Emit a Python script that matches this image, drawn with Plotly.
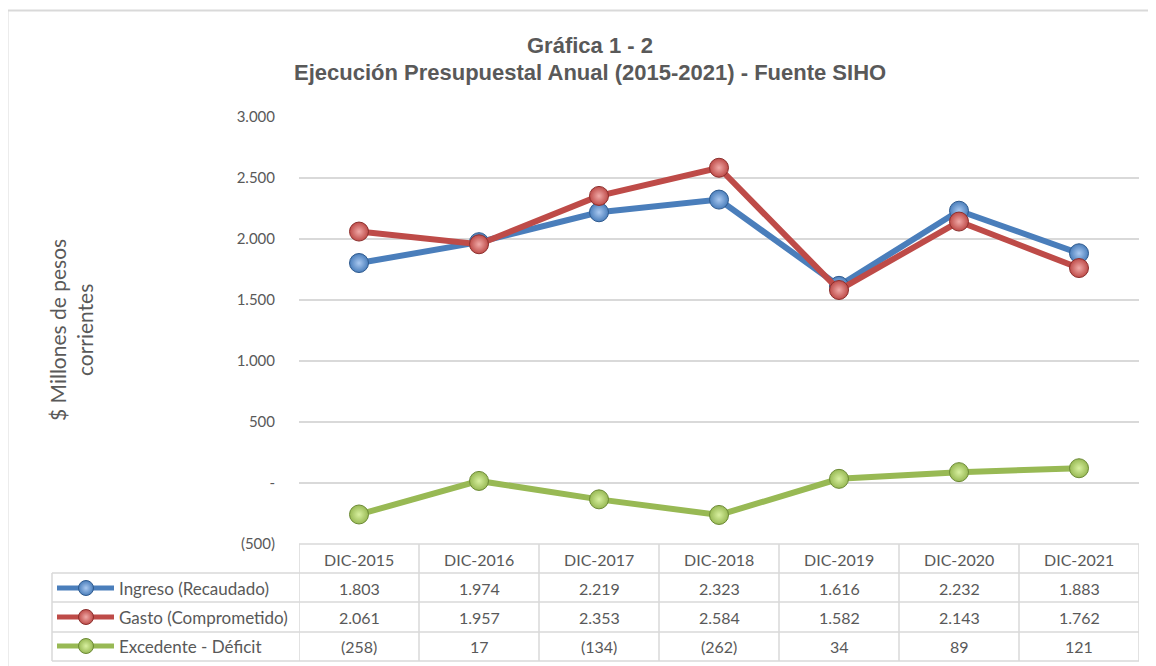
import plotly.graph_objects as go

categories = ["DIC-2015", "DIC-2016", "DIC-2017", "DIC-2018", "DIC-2019", "DIC-2020", "DIC-2021"]
ingreso = [1803, 1974, 2219, 2323, 1616, 2232, 1883]
gasto = [2061, 1957, 2353, 2584, 1582, 2143, 1762]
excedente = [-258, 17, -134, -262, 34, 89, 121]
series_names = ["Ingreso (Recaudado)", "Gasto (Comprometido)", "Excedente - Déficit"]
y_tickvals = [-500, 0, 500, 1000, 1500, 2000, 2500, 3000]
y_ticktext = ["(500)", "-", "500", "1.000", "1.500", "2.000", "2.500", "3.000"]

W, H = 1156, 666
OX, OY = 8, 8  # page body margin compensation
def px(x): return (x - OX) / W
def py(y): return 1 - (y - OY) / H

colors = ["#4A7EBB", "#BE4B48", "#98B954"]
centers = ["#A9C8F0", "#F0A9A7", "#D8F0A0"]
edges = ["#2E5A8E", "#8C2F2D", "#6C8A35"]
series = [ingreso, gasto, excedente]

def fmt(v):
    s = f"{abs(v):,}".replace(",", ".")
    return f"({s})" if v < 0 else s

TXT = "#595959"
FONT = "Lato"
GRID = "#D9D9D9"

fig = go.Figure()
order = [2, 0, 1]
for i in order:
    fig.add_trace(go.Scatter(
        x=categories, y=series[i], name=series_names[i], mode="lines+markers",
        line=dict(color=colors[i], width=6),
        marker=dict(size=19, color=colors[i], line=dict(color=edges[i], width=1),
                    gradient=dict(type="radial", color=centers[i])),
        showlegend=False, cliponaxis=False))

# legend symbols inside the table (overlay pixel axes)
row_y = [588, 617, 646]
for i in range(3):
    fig.add_trace(go.Scatter(
        x=[57, 114], y=[row_y[i], row_y[i]], xaxis="x2", yaxis="y2", mode="lines",
        line=dict(color=colors[i], width=5), showlegend=False, hoverinfo="skip"))
    fig.add_trace(go.Scatter(
        x=[86], y=[row_y[i]], xaxis="x2", yaxis="y2", mode="markers",
        marker=dict(size=15, color=colors[i], line=dict(color=edges[i], width=1),
                    gradient=dict(type="radial", color=centers[i])),
        showlegend=False, hoverinfo="skip"))

shapes = []
shapes.append(dict(type="line", xref="paper", yref="paper", x0=px(7), x1=px(1170), y0=py(10.5), y1=py(10.5),
                   line=dict(color="#D9D9D9", width=2)))
shapes.append(dict(type="line", xref="paper", yref="paper", x0=px(7.5), x1=px(7.5), y0=py(10), y1=py(680),
                   line=dict(color="#D9D9D9", width=2)))

tl = dict(color=GRID, width=1.5)
t_top, t_hdr, t_bot = 544, 573, 661
row_lines = [573, 602, 632, 661]
shapes.append(dict(type="line", xref="paper", yref="paper", x0=px(299), x1=px(1139), y0=py(t_top), y1=py(t_top), line=tl))
for yy in row_lines:
    shapes.append(dict(type="line", xref="paper", yref="paper", x0=px(52), x1=px(1139), y0=py(yy), y1=py(yy), line=tl))
shapes.append(dict(type="line", xref="paper", yref="paper", x0=px(52), x1=px(52), y0=py(t_hdr), y1=py(t_bot), line=tl))
for k in range(len(categories) + 1):
    shapes.append(dict(type="line", xref="x", yref="paper", x0=k - 0.5, x1=k - 0.5,
                       y0=py(t_top), y1=py(t_bot), line=tl))

def ann(text, x, y, xref="paper", size=16, family=FONT, xanchor="center", **kw):
    d = dict(text=text, x=x, y=y, xref=xref, yref="paper", showarrow=False,
             xanchor=xanchor, yanchor="middle", font=dict(family=family, size=size, color=TXT))
    d.update(kw)
    return d

annotations = []
TF = "Liberation Sans, Arial"
annotations.append(ann("<b>Gráfica 1 - 2</b>", px(590), py(45), size=22, family=TF))
annotations.append(ann("<b>Ejecución Presupuestal Anual (2015-2021) - Fuente SIHO</b>", px(590), py(73), size=22, family=TF))
annotations.append(ann("$ Millones de pesos<br>corrientes", px(71), py(330), size=21, textangle=-90))
for k, c in enumerate(categories):
    annotations.append(ann(c, k, py(559), xref="x", size=16))
    for r in range(3):
        annotations.append(ann(fmt(series[r][k]), k, py(row_y[r]), xref="x", size=16))
for r in range(3):
    annotations.append(ann(series_names[r], px(117), py(row_y[r]), size=17, xanchor="left"))

fig.update_layout(
    width=W, height=H, margin=dict(l=0, r=0, t=0, b=0, autoexpand=False),
    paper_bgcolor="white", plot_bgcolor="rgba(0,0,0,0)",
    xaxis=dict(domain=[px(299), px(1139)], range=[-0.5, 6.5], showticklabels=False, showgrid=False,
               zeroline=False, showline=False, fixedrange=True),
    yaxis=dict(domain=[py(544), py(117)], range=[-500, 3000], tickvals=y_tickvals, ticktext=y_ticktext,
               showgrid=True, gridcolor=GRID, gridwidth=1.5, zeroline=False, showline=False,
               ticks="outside", ticklen=20, tickcolor="rgba(0,0,0,0)",
               tickfont=dict(family=FONT, size=15, color=TXT), fixedrange=True),
    xaxis2=dict(domain=[0, 1], range=[OX, W + OX], visible=False, fixedrange=True),
    yaxis2=dict(domain=[0, 1], range=[H + OY, OY], visible=False, fixedrange=True),
    shapes=shapes, annotations=annotations,
)
fig.write_html("out.html")
